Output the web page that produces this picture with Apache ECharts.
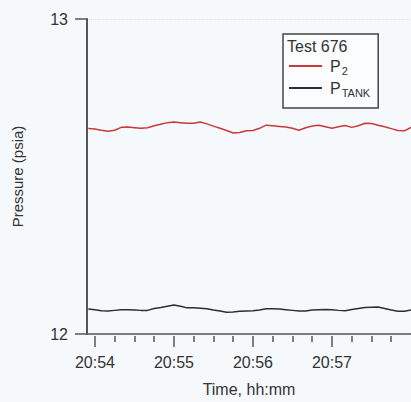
<!DOCTYPE html>
<html><head><meta charset="utf-8">
<script src="https://cdn.jsdelivr.net/npm/echarts@6/dist/echarts.min.js"></script>
<style>html,body{margin:0;padding:0;background:#f6f9fc}#c{width:411px;height:402px}</style>
</head><body><div id="c"></div>
<script>
// seconds after 20:54:00
var times = [];
for (var i = 0; i < 50; i++) times.push(-5 + 5 * i);
var p2 = [12.652, 12.651, 12.647, 12.644, 12.647, 12.656, 12.657, 12.655, 12.653, 12.655,
          12.661, 12.666, 12.671, 12.673, 12.671, 12.669, 12.669, 12.673, 12.667, 12.660,
          12.653, 12.646, 12.638, 12.640, 12.645, 12.646, 12.653, 12.663, 12.661, 12.659,
          12.657, 12.653, 12.647, 12.655, 12.660, 12.663, 12.658, 12.653, 12.658, 12.662,
          12.656, 12.661, 12.669, 12.668, 12.663, 12.658, 12.652, 12.646, 12.645, 12.656];
var ptank = [12.079, 12.077, 12.074, 12.073, 12.075, 12.077, 12.077, 12.076, 12.075, 12.075,
             12.081, 12.084, 12.088, 12.092, 12.088, 12.083, 12.083, 12.082, 12.080, 12.076,
             12.073, 12.069, 12.070, 12.072, 12.073, 12.074, 12.076, 12.080, 12.080, 12.079,
             12.077, 12.075, 12.073, 12.073, 12.076, 12.077, 12.078, 12.077, 12.075, 12.074,
             12.078, 12.081, 12.084, 12.085, 12.086, 12.081, 12.076, 12.072, 12.072, 12.076];
var majorTicks = [0, 60, 120, 180];
var majorLabels = ['20:54', '20:55', '20:56', '20:57'];
var minorTicks = [15, 30, 45, 75, 90, 105, 135, 150, 165, 195, 210, 225];
var yTicks = [12, 13];

function zip(a, b) { return a.map(function (t, i) { return [t, b[i]]; }); }

var chart = echarts.init(document.getElementById('c'), null, {renderer: 'svg'});
var font = 'Liberation Sans, Arial, sans-serif';
var xMin = -6, xMax = 240;
chart.setOption({
  backgroundColor: '#f6f9fc',
  animation: false,
  textStyle: {fontFamily: font},
  title: {text: 'Test 676', left: 287, top: 36, padding: 0,
    textStyle: {fontSize: 16, fontWeight: 'normal', color: '#333', fontFamily: font, lineHeight: 20}},
  grid: {left: 87, right: 0, top: 19, bottom: 63},
  legend: {
    orient: 'vertical', left: 283, top: 34, width: 94,
    padding: [24, 8, 10, 6], itemGap: 4, itemWidth: 33, itemHeight: 2, icon: 'rect',
    borderColor: '#444', borderWidth: 1.5, backgroundColor: '#fafcfe',
    data: ['P2', 'PTANK'],
    formatter: function (n) { return n === 'P2' ? '{p|P}{s|2}' : '{p|P}{s|TANK}'; },
    textStyle: {
      color: '#333', fontFamily: font,
      rich: {p: {fontSize: 16, color: '#333', padding: [0, 0, 0, 3]}, s: {fontSize: 11, color: '#333', padding: [9, 0, 0, 1]}}
    }
  },
  xAxis: [
    {type: 'value', min: xMin, max: xMax, position: 'bottom',
     axisLine: {show: true, onZero: false, lineStyle: {color: '#555', width: 1.5}},
     axisTick: {show: false}, axisLabel: {show: false}, splitLine: {show: false},
     name: 'Time, hh:mm', nameLocation: 'middle', nameGap: 47,
     nameTextStyle: {fontSize: 16, color: '#333', fontFamily: font}},
    {type: 'value', min: xMin, max: xMax, position: 'bottom', offset: 2,
     axisLine: {show: false, onZero: false},
     axisTick: {show: true, customValues: majorTicks, length: 11, lineStyle: {color: '#555', width: 1.5}},
     axisLabel: {show: true, customValues: majorTicks, margin: 18, fontSize: 16, color: '#333', fontFamily: font,
       formatter: function (v) { var i = majorTicks.indexOf(v); return i >= 0 ? majorLabels[i] : ''; }},
     splitLine: {show: false}},
    {type: 'value', min: xMin, max: xMax, position: 'bottom', offset: 2,
     axisLine: {show: false, onZero: false},
     axisTick: {show: true, customValues: minorTicks, length: 6, lineStyle: {color: '#555', width: 1.5}},
     axisLabel: {show: false}, splitLine: {show: false}}
  ],
  yAxis: {
    type: 'value', min: 12, max: 13, interval: 1,
    axisLine: {show: true, onZero: false, lineStyle: {color: '#555', width: 2}},
    axisTick: {show: true, length: 12, lineStyle: {color: '#555', width: 1.5}},
    axisLabel: {margin: 19, fontSize: 16, color: '#333', fontFamily: font,
      formatter: function (v) { return yTicks.indexOf(v) >= 0 ? String(v) : ''; }},
    splitLine: {show: true, lineStyle: {color: '#d8dbe0', type: 'dotted', width: 1}},
    name: 'Pressure (psia)', nameLocation: 'middle', nameGap: 62,
    nameTextStyle: {fontSize: 15, color: '#333', fontFamily: font}
  },
  series: [
    {name: 'P2', type: 'line', xAxisIndex: 0, data: zip(times, p2), symbol: 'none',
     lineStyle: {color: '#c9393c', width: 1.5}, itemStyle: {color: '#c9393c'}},
    {name: 'PTANK', type: 'line', xAxisIndex: 0, data: zip(times, ptank), symbol: 'none',
     lineStyle: {color: '#2e2e2e', width: 1.5}, itemStyle: {color: '#2e2e2e'}}
  ]
});
</script></body></html>
